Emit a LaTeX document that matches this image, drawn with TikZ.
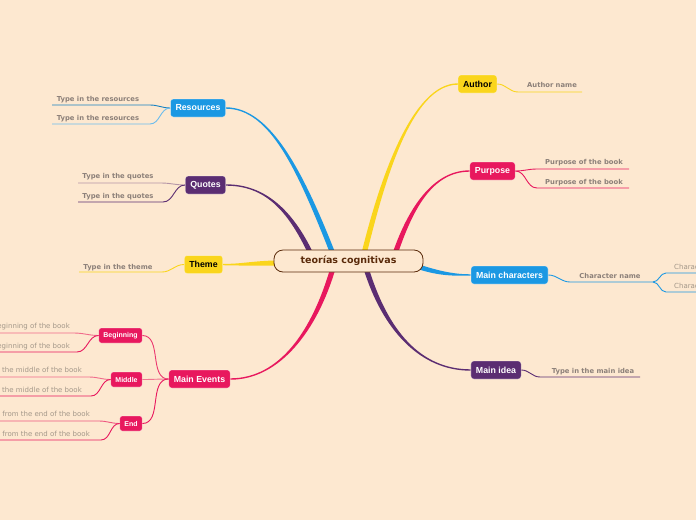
\documentclass[tikz,border=0pt]{standalone}
\usepackage{fontspec}
\setmainfont{Liberation Sans}
\newfontfamily\dv{DejaVu Sans}
\usetikzlibrary{calc}
\definecolor{bg}{HTML}{FDE8D0}
\definecolor{cblue}{HTML}{1B98E3}
\definecolor{cpurple}{HTML}{5B2D72}
\definecolor{cyellow}{HTML}{FAD51C}
\definecolor{cpink}{HTML}{E8185E}
\definecolor{cbrown}{HTML}{5A2A0A}
\definecolor{lblgrey}{HTML}{8C8079}
\definecolor{lightgrey}{HTML}{A39789}
\pgfdeclarelayer{bglayer}
\pgfdeclarelayer{back}
\pgfsetlayers{bglayer,back,main}
\tikzset{
  ctr/.style={draw=cbrown, line width=0.8pt, fill=bg, rounded corners=9pt, minimum width=149pt, minimum height=22pt, inner sep=0pt, font=\dv\bfseries\fontsize{9.5}{11}\selectfont, text=cbrown},
  topic/.style={rounded corners=3pt, minimum height=18pt, inner xsep=5pt, inner ysep=0pt, font=\bfseries\fontsize{8.8}{10}\selectfont, text=white, draw=white, draw opacity=0.35, line width=0.6pt},
  subtopic/.style={rounded corners=2.5pt, minimum height=15pt, inner xsep=4.5pt, inner ysep=0pt, font=\bfseries\fontsize{7}{8}\selectfont, text=white, fill=cpink, draw=white, draw opacity=0.35, line width=0.6pt},
  leaf/.style={font=\dv\bfseries\fontsize{6.8}{8}\selectfont, text=lblgrey, inner sep=0pt, anchor=base},
  lightleaf/.style={font=\dv\fontsize{7}{8}\selectfont, text=lightgrey, inner sep=0pt},
  conn/.style={line width=0.9pt},
  rt/.style={out=0,in=180},
  lt/.style={out=180,in=0}
}
\newcommand\branch[7]{\fill[#1] ($(#2)+(#6)$) .. controls ($(#3)+(#6)$) and ($(#4)+(#7)$) .. ($(#5)+(#7)$) -- ($(#5)-(#7)$) .. controls ($(#4)-(#7)$) and ($(#3)-(#6)$) .. ($(#2)-(#6)$) -- cycle;}
\begin{document}
\begin{tikzpicture}[x=1pt,y=-1pt]
\begin{pgfonlayer}{bglayer}
\fill[bg] (0,0) rectangle (696,520);
\end{pgfonlayer}
\useasboundingbox (0,0) rectangle (696,520);
% central and main topics
\node[ctr] (c) at (348.5,261) {teorías cognitivas};
\node[topic, fill=cyellow, text=black] (au) at (477.5,84) {Author};
\node[topic, fill=cpink] (pu) at (492.5,171) {Purpose};
\node[topic, fill=cblue] (mc) at (509.5,275) {Main characters};
\node[topic, fill=cpurple] (mi) at (496,370) {Main idea};
\node[topic, fill=cblue] (re) at (198,108) {Resources};
\node[topic, fill=cpurple] (qu) at (205.5,185) {Quotes};
\node[topic, fill=cyellow, text=black] (th) at (203.5,264.5) {Theme};
\node[topic, fill=cpink] (me) at (199.5,379) {Main Events};
\node[subtopic] (be) at (120.5,335.5) {Beginning};
\node[subtopic] (mid) at (126.5,379.5) {Middle};
\node[subtopic] (en) at (131,423.5) {End};
% branch starts
\coordinate (sAu) at (364,254);
\coordinate (sPu) at (395,254);
\coordinate (sMc) at (416,266);
\coordinate (sMi) at (366,268);
\coordinate (sRe) at (333,254);
\coordinate (sQu) at (311,254);
\coordinate (sTh) at (278,263);
\coordinate (sMe) at (333,268);
\begin{pgfonlayer}{back}
\branch{cyellow}{sAu}{382,180}{412,84}{au.west}{2.7,0}{0,0.7}
\branch{cpink}{sPu}{410,210}{432,171}{pu.west}{2.7,0}{0,0.7}
\branch{cblue}{sMc}{440,274}{455,275}{mc.west}{0,2.5}{0,0.7}
\branch{cpurple}{sMi}{385,330}{420,370}{mi.west}{2.7,0}{0,-0.7}
\branch{cblue}{sRe}{300,170}{270,108}{re.east}{2.7,0}{0,-0.7}
\branch{cpurple}{sQu}{290,210}{265,185}{qu.east}{2.7,0}{0,-0.7}
\branch{cyellow}{sTh}{255,263}{240,265}{th.east}{0,2.5}{0,0.7}
\branch{cpink}{sMe}{315,330}{280,379}{me.east}{2.7,0}{0,0.7}
\end{pgfonlayer}
% Author
\node[leaf] (an) at (552,87) {Author name};
\coordinate (anL) at (518,92); \coordinate (anR) at (582,92);
\draw[conn, cyellow] (au.east) to[rt] (anL) -- (anR);
% Purpose
\node[leaf] (p1) at (584,164) {Purpose of the book};
\node[leaf] (p2) at (584,184) {Purpose of the book};
\coordinate (p1L) at (537,169); \coordinate (p1R) at (629,169);
\coordinate (p2L) at (537,188); \coordinate (p2R) at (629,188);
\draw[conn, cpink] (pu.east) to[rt] (p1L) -- (p1R);
\draw[conn, cpink] (pu.east) to[rt] (p2L) -- (p2R);
% Main characters
\node[leaf] (cn) at (610,278) {Character name};
\coordinate (cnL) at (570,282); \coordinate (cnR) at (653,282);
\draw[conn, cblue] (mc.east) to[rt] (cnL) -- (cnR);
\node[lightleaf, anchor=base west] (c1) at (674,269) {Character name};
\node[lightleaf, anchor=base west] (c2) at (674,288) {Character name};
\coordinate (c1L) at (666,273); \coordinate (c1R) at (720,273);
\coordinate (c2L) at (666,292); \coordinate (c2R) at (720,292);
\draw[conn, cblue] (cnR) to[rt] (c1L) -- (c1R);
\draw[conn, cblue] (cnR) to[rt] (c2L) -- (c2R);
% Main idea
\node[leaf] (ti) at (593,373) {Type in the main idea};
\coordinate (tiL) at (540,377); \coordinate (tiR) at (640,377);
\draw[conn, cpurple] (mi.east) to[rt] (tiL) -- (tiR);
% Resources
\node[leaf] (r1) at (98,101) {Type in the resources};
\node[leaf] (r2) at (98,120) {Type in the resources};
\coordinate (r1L) at (150,105); \coordinate (r1R) at (52,105);
\coordinate (r2L) at (150,124); \coordinate (r2R) at (52,124);
\draw[conn, cblue!85!black] (re.west) to[lt] (r1L) -- (r1R);
\draw[conn, cblue!65!white] (re.west) to[lt] (r2L) -- (r2R);
% Quotes
\node[leaf] (q1) at (118,178) {Type in the quotes};
\node[leaf] (q2) at (118,198) {Type in the quotes};
\coordinate (q1L) at (161,183); \coordinate (q1R) at (78,183);
\coordinate (q2L) at (163,202); \coordinate (q2R) at (78,202);
\draw[conn, cpurple!45!bg] (qu.west) to[lt] (q1L) -- (q1R);
\draw[conn, cpurple] (qu.west) to[lt] (q2L) -- (q2R);
% Theme
\node[leaf] (t1) at (118,269) {Type in the theme};
\coordinate (t1L) at (162,272); \coordinate (t1R) at (79,272);
\draw[conn, cyellow] (th.west) to[lt] (t1L) -- (t1R);
% Main Events
\draw[conn, cpink!85!bg] (me.west) to[lt] (be.east);
\draw[conn, cpink!55!bg] (me.west) to[lt] (mid.east);
\draw[conn, cpink] (me.west) to[lt] (en.east);
\node[lightleaf, anchor=base east] (b1) at (70,328) {Type in the events from the beginning of the book};
\node[lightleaf, anchor=base east] (b2) at (70,348) {Type in the events from the beginning of the book};
\coordinate (b1L) at (74,333); \coordinate (b1R) at (-300,333);
\coordinate (b2L) at (77,352); \coordinate (b2R) at (-300,352);
\draw[conn, cpink!60!bg] (be.west) to[lt] (b1L) -- (b1R);
\draw[conn, cpink] (be.west) to[lt] (b2L) -- (b2R);
\node[lightleaf, anchor=base east] (m1) at (82,372) {Type in the events from the middle of the book};
\node[lightleaf, anchor=base east] (m2) at (82,392) {Type in the events from the middle of the book};
\coordinate (m1L) at (89,377); \coordinate (m1R) at (-300,377);
\coordinate (m2L) at (91,396); \coordinate (m2R) at (-300,396);
\draw[conn, cpink!60!bg] (mid.west) to[lt] (m1L) -- (m1R);
\draw[conn, cpink] (mid.west) to[lt] (m2L) -- (m2R);
\node[lightleaf, anchor=base east] (e1) at (90,416) {Type in the events from the end of the book};
\node[lightleaf, anchor=base east] (e2) at (90,436) {Type in the events from the end of the book};
\coordinate (e1L) at (99,421); \coordinate (e1R) at (-300,421);
\coordinate (e2L) at (101,440); \coordinate (e2R) at (-300,440);
\draw[conn, cpink!70!bg] (en.west) to[lt] (e1L) -- (e1R);
\draw[conn, cpink] (en.west) to[lt] (e2L) -- (e2R);
\end{tikzpicture}
\end{document}
